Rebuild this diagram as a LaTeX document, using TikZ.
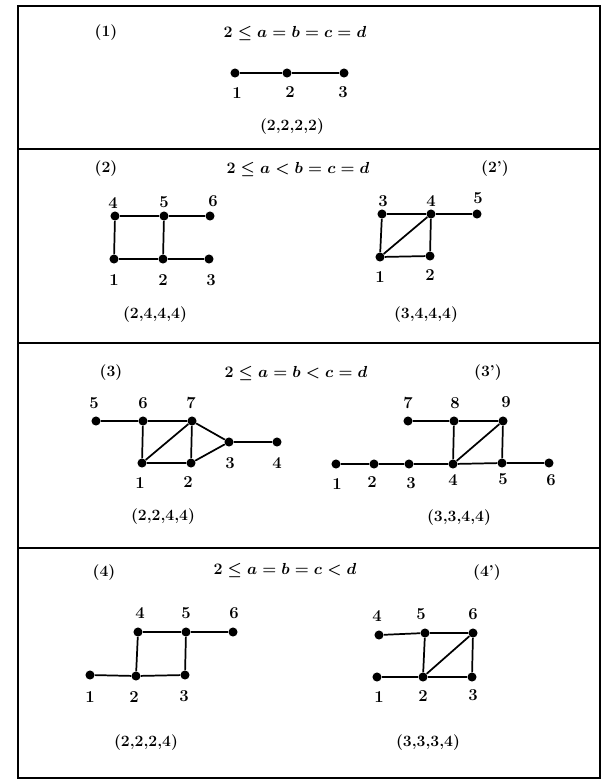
\documentclass[tikz,border=0pt]{standalone}
\begin{document}
\begin{tikzpicture}[x=0.75pt,y=-0.75pt,
  dot/.style={circle,fill=black,inner sep=0pt,minimum size=6.8pt},
  edge/.style={line width=1.3pt},
  lbl/.style={font=\bfseries\fontsize{12.5}{14}\selectfont,inner sep=0pt},
  ttl/.style={font=\bfseries\fontsize{11.8}{14}\selectfont,inner sep=0pt},
  cond/.style={font=\fontsize{12}{15}\selectfont\boldmath,inner sep=0pt},
  frame/.style={line width=2.2pt},
  sep/.style={line width=2pt}]
\useasboundingbox (0,0) rectangle (602,779);
% frame and separators
\draw[frame] (18,6) rectangle (600,778);
\draw[sep] (18,149) -- (600,149);
\draw[sep] (18,343) -- (600,343);
\draw[sep] (18,548) -- (600,548);

% ---------- section 1 ----------
\node[ttl] (t1) at (106,33) {(1)};
\node[cond] (c1) at (295,33) {$2\le a=b=c=d$};
\node[dot] (a1) at (235,73) {};
\node[dot] (a2) at (287,73) {};
\node[dot] (a3) at (344,73) {};
\draw[edge] (a1) -- (a2) -- (a3);
\node[lbl] (la1) at (237,93) {1};
\node[lbl] (la2) at (290,92) {2};
\node[lbl] (la3) at (343,92) {3};
\node[ttl] (s1) at (292,127) {(2,2,2,2)};

% ---------- section 2 ----------
\node[ttl] (t2) at (106,169) {(2)};
\node[cond] (c2) at (298,169) {$2\le a<b=c=d$};
\node[ttl] (t2p) at (495,169) {(2')};
% left graph
\node[dot] (b1) at (114,259) {};
\node[dot] (b2) at (163,259) {};
\node[dot] (b3) at (209,259) {};
\node[dot] (b4) at (115,216) {};
\node[dot] (b5) at (164,216) {};
\node[dot] (b6) at (210,216) {};
\draw[edge] (b4) -- (b5) -- (b6);
\draw[edge] (b1) -- (b2) -- (b3);
\draw[edge] (b4) -- (b1);
\draw[edge] (b5) -- (b2);
\node[lbl] (lb1) at (114,280) {1};
\node[lbl] (lb2) at (163,280) {2};
\node[lbl] (lb3) at (211,280) {3};
\node[lbl] (lb4) at (113,203) {4};
\node[lbl] (lb5) at (164,202) {5};
\node[lbl] (lb6) at (213,201) {6};
\node[ttl] (s2) at (155,315) {(2,4,4,4)};
% right graph
\node[dot] (c1v) at (380,257) {};
\node[dot] (c2v) at (430,256) {};
\node[dot] (c3v) at (382,214) {};
\node[dot] (c4v) at (431,214) {};
\node[dot] (c5v) at (477,214) {};
\draw[edge] (c3v) -- (c4v) -- (c5v);
\draw[edge] (c3v) -- (c1v) -- (c2v) -- (c4v);
\draw[edge] (c1v) -- (c4v);
\node[lbl] (lc1) at (380,277) {1};
\node[lbl] (lc2) at (430,275) {2};
\node[lbl] (lc3) at (383,201) {3};
\node[lbl] (lc4) at (431,201) {4};
\node[lbl] (lc5) at (478,198) {5};
\node[ttl] (s2p) at (426,315) {(3,4,4,4)};

% ---------- section 3 ----------
\node[ttl] (t3) at (111,373) {(3)};
\node[cond] (c3) at (296,373) {$2\le a=b<c=d$};
\node[ttl] (t3p) at (488,373) {(3')};
% left graph
\node[dot] (d1) at (142,463) {};
\node[dot] (d2) at (191,463) {};
\node[dot] (d3) at (229,442) {};
\node[dot] (d4) at (277,442) {};
\node[dot] (d5) at (96,421) {};
\node[dot] (d6) at (143,421) {};
\node[dot] (d7) at (192,421) {};
\draw[edge] (d5) -- (d6) -- (d7) -- (d3) -- (d4);
\draw[edge] (d6) -- (d1) -- (d2) -- (d3);
\draw[edge] (d1) -- (d7) -- (d2);
\node[lbl] (ld1) at (140,483) {1};
\node[lbl] (ld2) at (188,482) {2};
\node[lbl] (ld3) at (230,463) {3};
\node[lbl] (ld4) at (277,463) {4};
\node[lbl] (ld5) at (94,403) {5};
\node[lbl] (ld6) at (143,403) {6};
\node[lbl] (ld7) at (191,403) {7};
\node[ttl] (s3) at (163,517) {(2,2,4,4)};
% right graph
\node[dot] (e1) at (336,464) {};
\node[dot] (e2) at (374,464) {};
\node[dot] (e3) at (409,464) {};
\node[dot] (e4) at (453,464) {};
\node[dot] (e5) at (502,463) {};
\node[dot] (e6) at (549,463) {};
\node[dot] (e7) at (408,421) {};
\node[dot] (e8) at (454,421) {};
\node[dot] (e9) at (503,421) {};
\draw[edge] (e1) -- (e2) -- (e3) -- (e4) -- (e5) -- (e6);
\draw[edge] (e7) -- (e8) -- (e9) -- (e5);
\draw[edge] (e8) -- (e4) -- (e9);
\node[lbl] (le1) at (337,484) {1};
\node[lbl] (le2) at (372,482) {2};
\node[lbl] (le3) at (411,483) {3};
\node[lbl] (le4) at (453,480) {4};
\node[lbl] (le5) at (503,479) {5};
\node[lbl] (le6) at (551,480) {6};
\node[lbl] (le7) at (408,403) {7};
\node[lbl] (le8) at (455,403) {8};
\node[lbl] (le9) at (506,402) {9};
\node[ttl] (s3p) at (459,518) {(3,3,4,4)};

% ---------- section 4 ----------
\node[ttl] (t4) at (104,573) {(4)};
\node[cond] (c4) at (285,570) {$2\le a=b=c<d$};
\node[ttl] (t4p) at (487,573) {(4')};
% left graph
\node[dot] (f1) at (90,675) {};
\node[dot] (f2) at (136,676) {};
\node[dot] (f3) at (185,675) {};
\node[dot] (f4) at (138,632) {};
\node[dot] (f5) at (186,632) {};
\node[dot] (f6) at (233,632) {};
\draw[edge] (f4) -- (f5) -- (f6);
\draw[edge] (f1) -- (f2) -- (f3);
\draw[edge] (f4) -- (f2);
\draw[edge] (f5) -- (f3);
\node[lbl] (lf1) at (90,697) {1};
\node[lbl] (lf2) at (134,697) {2};
\node[lbl] (lf3) at (184,696) {3};
\node[lbl] (lf4) at (140,613) {4};
\node[lbl] (lf5) at (186,613) {5};
\node[lbl] (lf6) at (234,613) {6};
\node[ttl] (s4) at (146,743) {(2,2,2,4)};
% right graph
\node[dot] (g1) at (377,677) {};
\node[dot] (g2) at (423,677) {};
\node[dot] (g3) at (472,677) {};
\node[dot] (g4) at (379,635) {};
\node[dot] (g5) at (425,633) {};
\node[dot] (g6) at (473,633) {};
\draw[edge] (g4) -- (g5) -- (g6) -- (g3);
\draw[edge] (g1) -- (g2) -- (g3);
\draw[edge] (g5) -- (g2) -- (g6);
\node[lbl] (lg1) at (379,697) {1};
\node[lbl] (lg2) at (423,696) {2};
\node[lbl] (lg3) at (473,695) {3};
\node[lbl] (lg4) at (377,616) {4};
\node[lbl] (lg5) at (421,614) {5};
\node[lbl] (lg6) at (473,614) {6};
\node[ttl] (s4p) at (428,743) {(3,3,3,4)};
\end{tikzpicture}
\end{document}
